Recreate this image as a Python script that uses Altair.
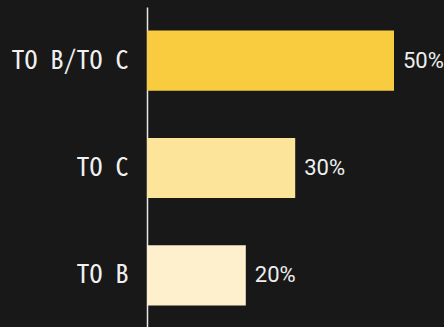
import altair as alt
import pandas as pd

categories = ["TO B/TO C", "TO C", "TO B"]
values = [50, 30, 20]
labels = ["50%", "30%", "20%"]
colors = ["#F9CB3E", "#FCE49B", "#FEF0CD"]

df = pd.DataFrame({"cat": categories, "val": values, "label": labels, "color": colors})

base = alt.Chart(df).encode(
    y=alt.Y("cat:N", sort=categories, title=None,
            scale=alt.Scale(paddingInner=0.44, paddingOuter=0.22),
            axis=alt.Axis(domainColor="#e6e6e6", domainWidth=1.5, ticks=False,
                          labelPadding=19, labelColor="#f0f0f0", labelFontSize=26,
                          labelFont="Noto Sans Mono CJK SC, DejaVu Sans Mono", grid=False)),
    x=alt.X("val:Q", title=None, scale=alt.Scale(domain=[0, 50], nice=False),
            axis=None),
)

bars = base.mark_bar().encode(color=alt.Color("color:N", scale=None))
text = base.mark_text(align="left", baseline="middle", dx=9, font="Roboto",
                      fontSize=22, color="#eeeeee").encode(text="label:N")

chart = (bars + text).properties(
    width=247, height=322,
    background="#181818",
    padding={"left": 147, "top": 7, "right": 50, "bottom": 0},
    autosize=alt.AutoSizeParams(type="none"),
).configure_view(stroke=None)

chart.save("out.html", embed_options={"renderer": "svg", "actions": False})
